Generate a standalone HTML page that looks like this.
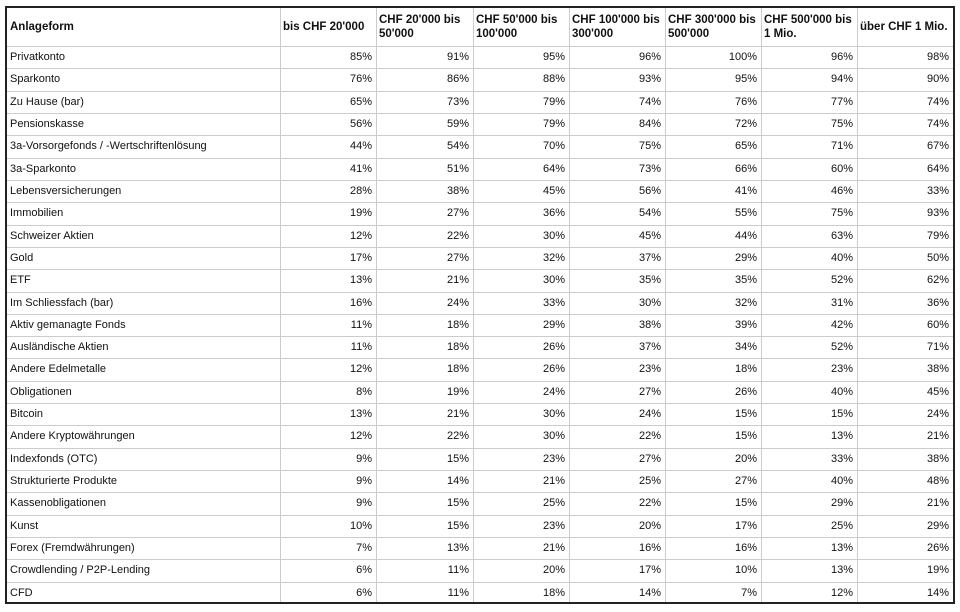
<!DOCTYPE html><html><head><style>
body{margin:0;background:#fff;width:960px;height:612px;position:relative;font-family:"Liberation Sans",sans-serif;color:#111}
#t{position:absolute;left:5px;top:6px;width:946px;height:594px;border:2px solid #222;box-sizing:content-box}
.h{position:absolute;top:0;height:38px;font-weight:bold;font-size:11.5px;line-height:14px;display:flex;align-items:center;padding-left:3px;box-sizing:border-box}
.r{position:absolute;left:0;width:946px;height:22.32px;border-top:1px solid #ccc;box-sizing:border-box;font-size:11px}
.c{position:absolute;top:0;height:21px;line-height:21px;}
.v{text-align:right;padding-right:4px;box-sizing:border-box}
.vl{position:absolute;top:0;bottom:0;width:1px;background:#ccc}
</style></head><body><div id="t"></div>
<script>
const cols=[0,273,369,466,562,658,754,850,946];
const hd=["Anlageform","bis CHF 20'000","CHF 20'000 bis 50'000","CHF 50'000 bis 100'000","CHF 100'000 bis 300'000","CHF 300'000 bis 500'000","CHF 500'000 bis 1 Mio.","über CHF 1 Mio."];
const d=`Privatkonto 85 91 95 96 100 96 98
Sparkonto 76 86 88 93 95 94 90
Zu Hause (bar) 65 73 79 74 76 77 74
Pensionskasse 56 59 79 84 72 75 74
3a-Vorsorgefonds / -Wertschriftenlösung 44 54 70 75 65 71 67
3a-Sparkonto 41 51 64 73 66 60 64
Lebensversicherungen 28 38 45 56 41 46 33
Immobilien 19 27 36 54 55 75 93
Schweizer Aktien 12 22 30 45 44 63 79
Gold 17 27 32 37 29 40 50
ETF 13 21 30 35 35 52 62
Im Schliessfach (bar) 16 24 33 30 32 31 36
Aktiv gemanagte Fonds 11 18 29 38 39 42 60
Ausländische Aktien 11 18 26 37 34 52 71
Andere Edelmetalle 12 18 26 23 18 23 38
Obligationen 8 19 24 27 26 40 45
Bitcoin 13 21 30 24 15 15 24
Andere Kryptowährungen 12 22 30 22 15 13 21
Indexfonds (OTC) 9 15 23 27 20 33 38
Strukturierte Produkte 9 14 21 25 27 40 48
Kassenobligationen 9 15 25 22 15 29 21
Kunst 10 15 23 20 17 25 29
Forex (Fremdwährungen) 7 13 21 16 16 13 26
Crowdlending / P2P-Lending 6 11 20 17 10 13 19
CFD 6 11 18 14 7 12 14`.split("\n");
const t=document.getElementById('t');let h='';
for(let i=1;i<8;i++)h+=`<div class="vl" style="left:${cols[i]}px"></div>`;
hd.forEach((x,i)=>h+=`<div class="h" style="left:${cols[i]}px;width:${cols[i+1]-cols[i]}px">${x}</div>`);
d.forEach((l,r)=>{const p=l.split(' ');const v=p.slice(-7);const n=p.slice(0,-7).join(' ');
h+=`<div class="r" style="top:${38+r*22.32}px"><div class="c" style="left:3px">${n}</div>`;
v.forEach((x,i)=>h+=`<div class="c v" style="left:${cols[i+1]}px;width:${cols[i+2]-cols[i+1]}px">${x}%</div>`);h+='</div>';});
t.innerHTML=h;
</script></body></html>
